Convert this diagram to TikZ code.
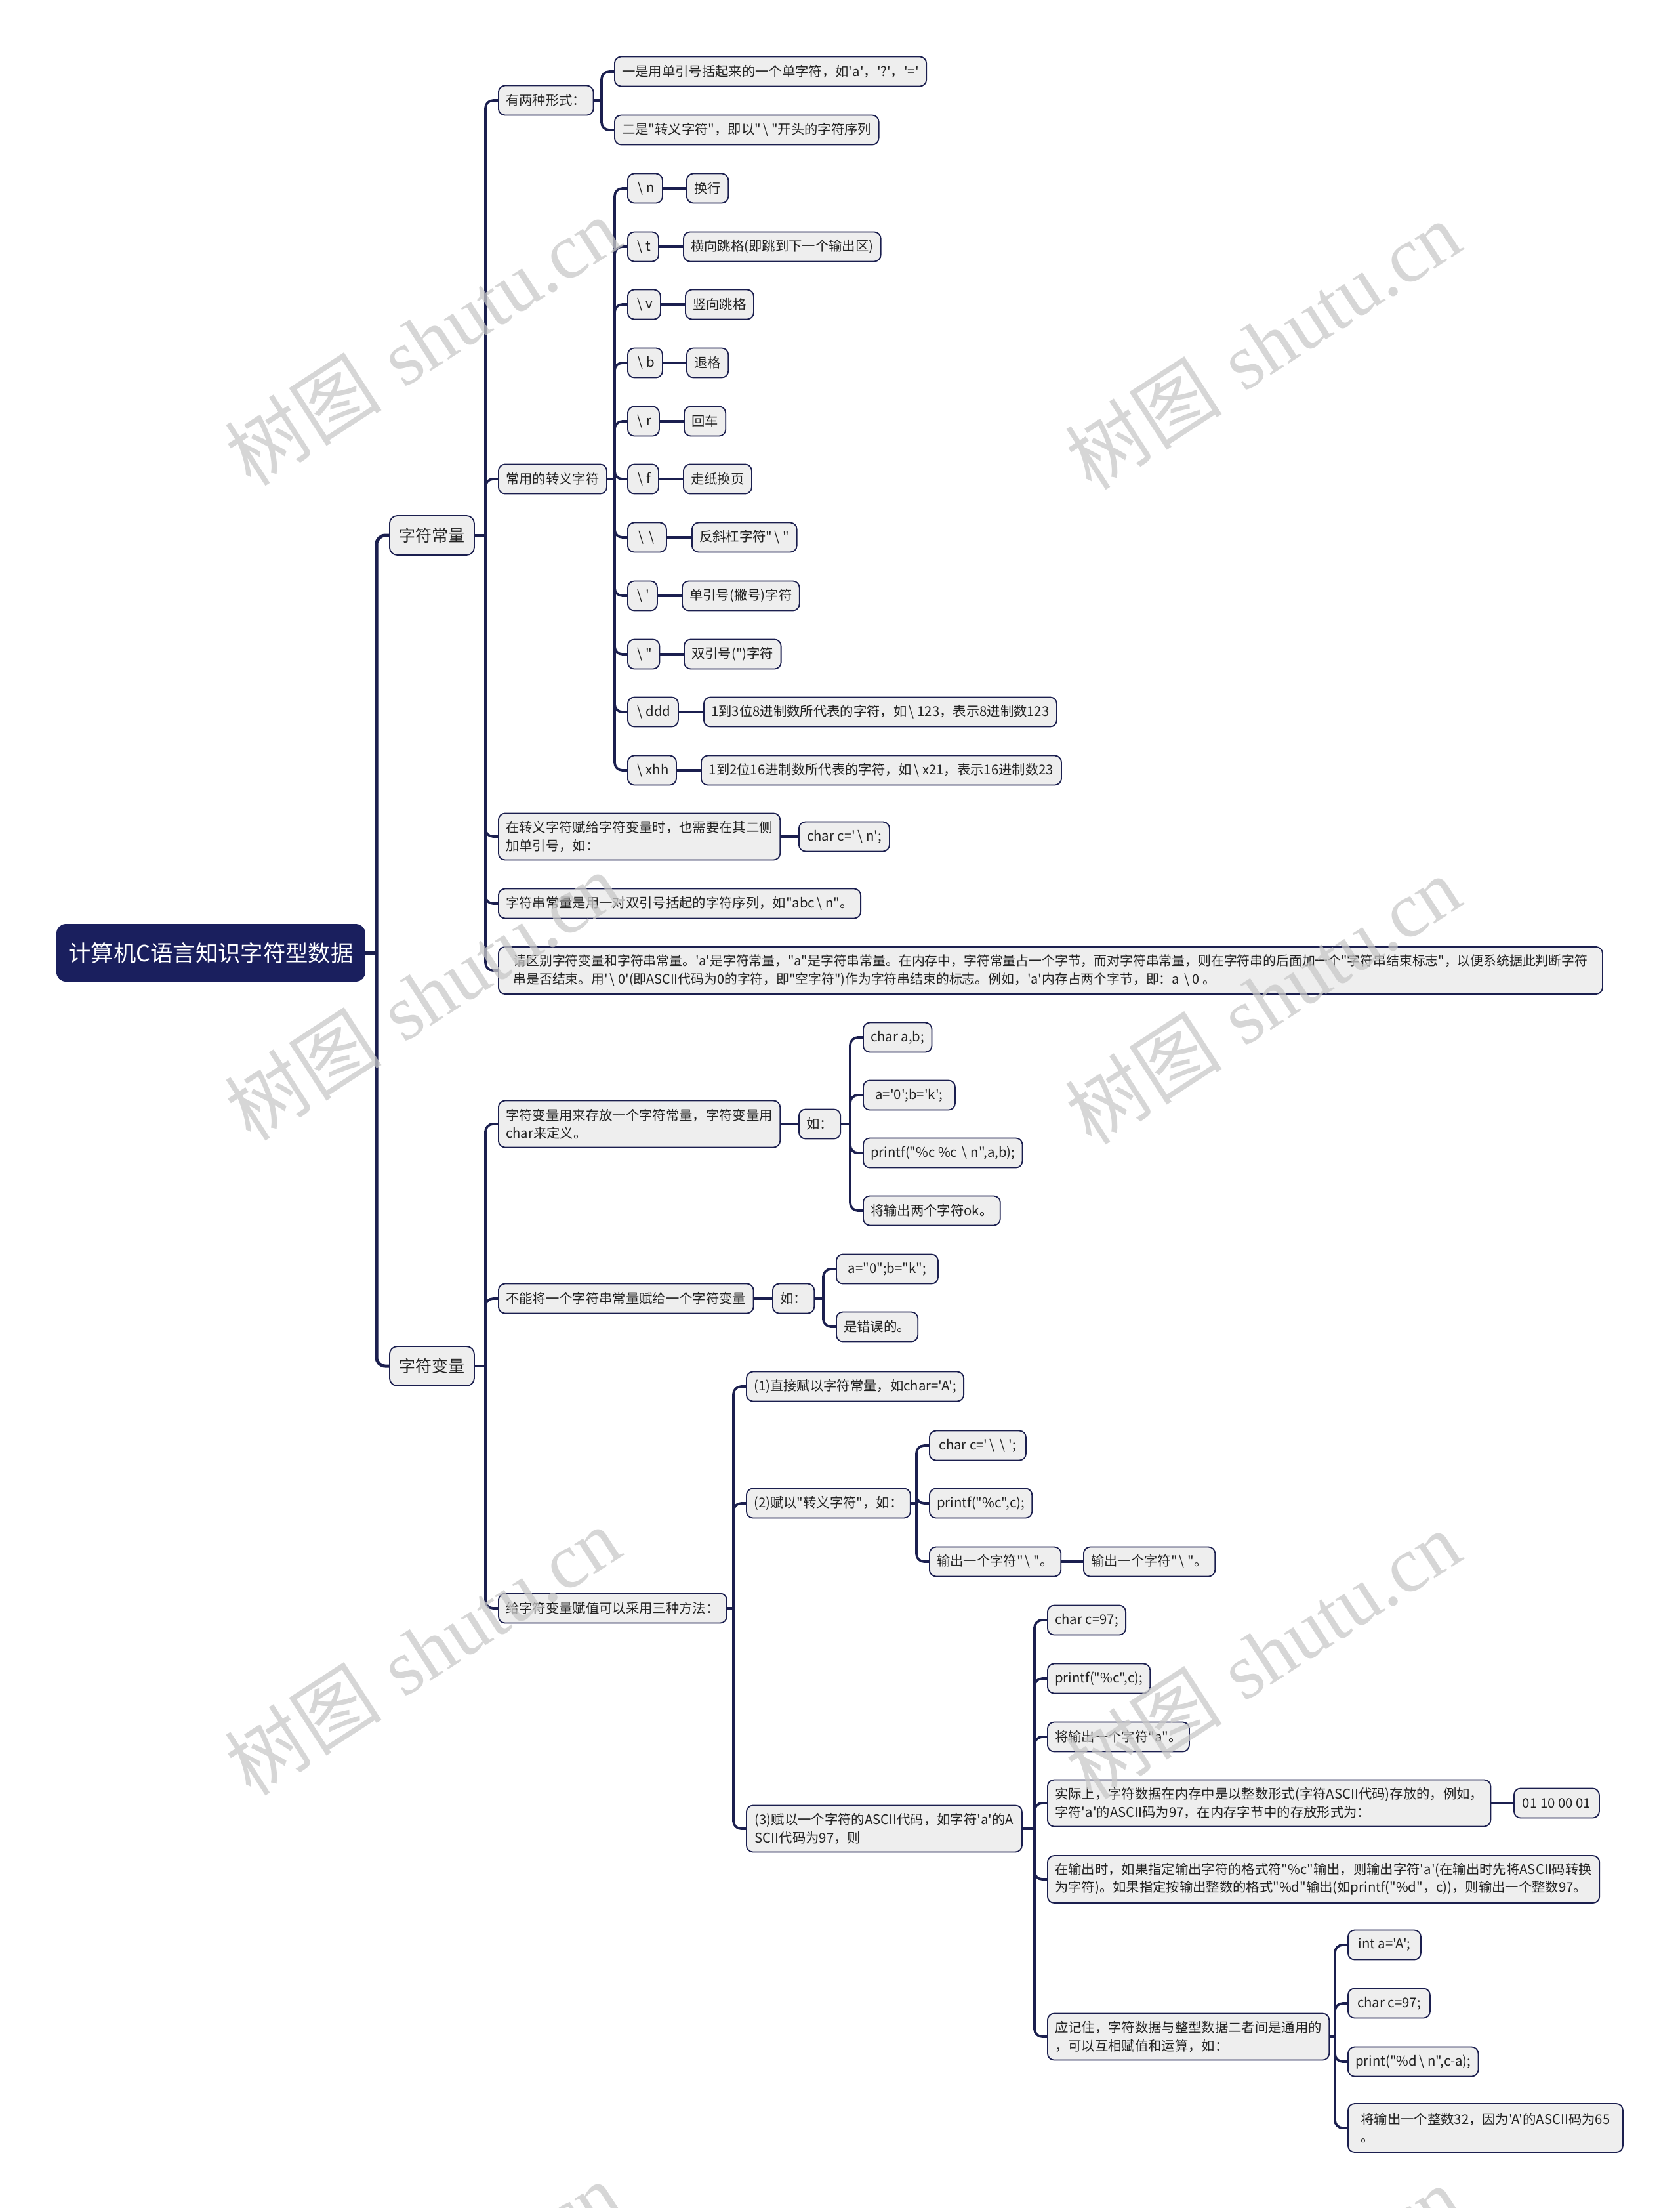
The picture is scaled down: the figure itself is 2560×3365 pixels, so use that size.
\documentclass[tikz,border=0pt]{standalone}
\usepackage{fontspec}
\newfontfamily\cjkmain{Noto Sans CJK SC}
\newfontfamily\wmserif{Liberation Serif}
\newfontfamily\wmcjk{Noto Sans CJK SC}
\definecolor{lc}{HTML}{1B1F4F}
\definecolor{bg}{HTML}{EEEEEE}
\definecolor{rootc}{HTML}{1A1F5E}
\definecolor{tc}{HTML}{222222}
\definecolor{wmc}{HTML}{C8C8C8}
\newcommand\bs{\hspace{0.15em}\textbackslash\hspace{0.25em}}
\newcommand\bx[6][]{\node[box,#1,anchor=west,minimum width=#4*0.3pt,minimum height=#5*0.3pt] (#2) at (#3) {#6};}
\newcommand\fan[4][conn]{\path (#2.east -| #3.west) ++(-19,0) coordinate (sp#2); \draw[#1] (#2.east) -- (sp#2); \foreach \c in {#4} {\draw[#1] (sp#2) |- (\c.west);}}
\newcommand\lnk[2]{\draw[conn] (#1.east) -- (#2.west);}
\begin{document}
\begin{tikzpicture}[x=0.3pt,y=-0.3pt,
  box/.style={draw=lc, line width=0.55pt, fill=bg, rounded corners=3pt, inner xsep=3.4pt, inner ysep=0pt, font=\cjkmain\fontsize{6.1}{8.2}\selectfont, text=tc, align=left},
  rootbox/.style={fill=rootc, draw=rootc, text=white, font=\cjkmain\fontsize{10.3}{12}\selectfont, rounded corners=4pt},
  lvone/.style={font=\cjkmain\fontsize{7.5}{9}\selectfont, rounded corners=3.5pt},
  conn/.style={draw=lc, line width=1.1pt, rounded corners=3.5pt},
  mainconn/.style={draw=lc, line width=1.5pt, rounded corners=4pt},
  wm/.style={text=wmc, opacity=0.75, font=\fontsize{36}{40}\selectfont, inner sep=0pt}
]
\useasboundingbox (0,0) rectangle (2560,3365);
% root and first level
\bx[rootbox]{root}{86,1452}{469}{86}{计算机C语言知识字符型数据}
\bx[lvone]{cl}{593,816}{129}{60}{字符常量}
\bx[lvone]{bl}{593,2082}{129}{60}{字符变量}
% children of 字符常量
\bx{a1}{759,153}{139}{45}{有两种形式：}
\bx{a1a}{936,109}{467}{45}{一是用单引号括起来的一个单字符，如'a'，'?'，'='}
\bx{a1b}{936,198}{394}{45}{二是"转义字符"，即以"\bs"开头的字符序列}
\bx{a2}{759,730}{160}{45}{常用的转义字符}
\bx{e01}{956,287}{53}{45}{\bs n}
\bx{d01}{1046,287}{60}{45}{换行}
\bx{e02}{956,376}{47}{45}{\bs t}
\bx{d02}{1041,376}{294}{45}{横向跳格(即跳到下一个输出区)}
\bx{e03}{956,464}{50}{45}{\bs v}
\bx{d03}{1044,464}{100}{45}{竖向跳格}
\bx{e04}{956,553}{53}{45}{\bs b}
\bx{d04}{1046,553}{60}{45}{退格}
\bx{e05}{956,642}{48}{45}{\bs r}
\bx{d05}{1042,642}{59}{45}{回车}
\bx{e06}{956,730}{47}{45}{\bs f}
\bx{d06}{1041,730}{99}{45}{走纸换页}
\bx{e07}{956,819}{59}{45}{\bs\bs}
\bx{d07}{1054,819}{156}{45}{反斜杠字符"\bs"}
\bx{e08}{956,908}{45}{45}{\bs '}
\bx{d08}{1039,908}{173}{45}{单引号(撇号)字符}
\bx{e09}{956,997}{48}{45}{\bs "}
\bx{d09}{1042,997}{142}{45}{双引号(")字符}
\bx{e10}{956,1085}{77}{45}{\bs ddd}
\bx{d10}{1072,1085}{538}{45}{1到3位8进制数所代表的字符，如\bs 123，表示8进制数123}
\bx{e11}{956,1174}{74}{45}{\bs xhh}
\bx{d11}{1068,1174}{549}{45}{1到2位16进制数所代表的字符，如\bs x21，表示16进制数23}
\bx{a3}{759,1275}{420}{71}{在转义字符赋给字符变量时，也需要在其二侧\\加单引号，如：}
\bx{a3r}{1217,1275}{138}{45}{char c='\bs n';}
\bx{a4}{759,1377}{543}{45}{字符串常量是用一对双引号括起的字符序列，如"abc\bs n"。}
\bx[font=\cjkmain\fontsize{5.95}{8.2}\selectfont]{a5}{759,1479}{1683}{72}{请区别字符变量和字符串常量。'a'是字符常量，"a"是字符串常量。在内存中，字符常量占一个字节，而对字符串常量，则在字符串的后面加一个"字符串结束标志"，以便系统据此判断字符\\串是否结束。用'\bs 0'(即ASCII代码为0的字符，即"空字符")作为字符串结束的标志。例如，'a'内存占两个字节，即：a \bs 0 。}
% children of 字符变量
\bx{b1}{759,1713}{420}{71}{字符变量用来存放一个字符常量，字符变量用\\char来定义。}
\bx{b1r}{1217,1713}{60}{45}{如：}
\bx{c1}{1315,1581}{100}{45}{char a,b;}
\bx{c2}{1315,1669}{140}{45}{a='0';b='k';}
\bx{c3}{1315,1757}{240}{45}{printf("\%c \%c \bs n",a,b);}
\bx{c4}{1315,1845}{203}{45}{将输出两个字符ok。}
\bx{b2}{759,1979}{380}{45}{不能将一个字符串常量赋给一个字符变量}
\bx{b2r}{1177,1979}{60}{45}{如：}
\bx{dd1}{1274,1934}{155}{45}{a="0";b="k";}
\bx{dd2}{1274,2022}{119}{45}{是错误的。}
\bx{b3}{759,2451}{340}{45}{给字符变量赋值可以采用三种方法：}
\bx{m1}{1137,2113}{329}{45}{(1)直接赋以字符常量，如char='A';}
\bx{m2}{1137,2291}{241}{45}{(2)赋以"转义字符"，如：}
\bx{f1}{1416,2203}{147}{45}{char c='\bs\bs';}
\bx{f2}{1416,2291}{151}{45}{printf("\%c",c);}
\bx{f3}{1416,2380}{197}{45}{输出一个字符"\bs"。}
\bx{f4}{1651,2380}{195}{45}{输出一个字符"\bs"。}
\bx{m3}{1137,2787}{420}{71}{(3)赋以一个字符的ASCII代码，如字符'a'的A\\SCII代码为97，则}
\bx{g1}{1596,2469}{118}{45}{char c=97;}
\bx{g2}{1596,2558}{149}{45}{printf("\%c",c);}
\bx{g3}{1596,2647}{205}{45}{将输出一个字符"a"。}
\bx{g4}{1596,2748}{671}{71}{实际上，字符数据在内存中是以整数形式(字符ASCII代码)存放的，例如，\\字符'a'的ASCII码为97，在内存字节中的存放形式为：}
\bx{g4r}{2307,2748}{130}{45}{01 10 00 01}
\bx{g5}{1596,2864}{841}{72}{在输出时，如果指定输出字符的格式符"\%c"输出，则输出字符'a'(在输出时先将ASCII码转换\\为字符)。如果指定按输出整数的格式"\%d"输出(如printf("\%d"，c))，则输出一个整数97。}
\bx{g6}{1596,3104}{419}{71}{应记住，字符数据与整型数据二者间是通用的\\，可以互相赋值和运算，如：}
\bx{h1}{2054,2964}{111}{45}{int a='A';}
\bx{h2}{2054,3053}{125}{45}{char c=97;}
\bx{h3}{2054,3142}{196}{45}{print("\%d\bs n",c-a);}
\bx{h4}{2054,3243}{419}{74}{将输出一个整数32，因为'A'的ASCII码为65\\。}
% connectors
\fan[mainconn]{root}{cl}{cl,bl}
\fan{cl}{a1}{a1,a2,a3,a4,a5}
\fan{bl}{b1}{b1,b2,b3}
\fan{a1}{a1a}{a1a,a1b}
\fan{a2}{e01}{e01,e02,e03,e04,e05,e06,e07,e08,e09,e10,e11}
\lnk{e01}{d01}\lnk{e02}{d02}\lnk{e03}{d03}\lnk{e04}{d04}
\lnk{e05}{d05}\lnk{e06}{d06}\lnk{e07}{d07}\lnk{e08}{d08}
\lnk{e09}{d09}\lnk{e10}{d10}\lnk{e11}{d11}
\lnk{a3}{a3r}
\lnk{b1}{b1r}
\fan{b1r}{c1}{c1,c2,c3,c4}
\lnk{b2}{b2r}
\fan{b2r}{dd1}{dd1,dd2}
\fan{b3}{m1}{m1,m2,m3}
\fan{m2}{f1}{f1,f2,f3}
\lnk{f3}{f4}
\fan{m3}{g1}{g1,g2,g3,g4,g5,g6}
\lnk{g4}{g4r}
\fan{g6}{h1}{h1,h2,h3,h4}
% watermarks
\begin{scope}
\clip (0,0) rectangle (2560,3365);
\node[wm,rotate=33] (wm1) at (644,520) {{\wmcjk 树图} {\wmserif shutu.cn}};
\node[wm,rotate=33] (wm2) at (1925,526) {{\wmcjk 树图} {\wmserif shutu.cn}};
\node[wm,rotate=33] (wm3) at (644,1518) {{\wmcjk 树图} {\wmserif shutu.cn}};
\node[wm,rotate=33] (wm4) at (1925,1524) {{\wmcjk 树图} {\wmserif shutu.cn}};
\node[wm,rotate=33] (wm5) at (644,2516) {{\wmcjk 树图} {\wmserif shutu.cn}};
\node[wm,rotate=33] (wm6) at (1925,2522) {{\wmcjk 树图} {\wmserif shutu.cn}};
\node[wm,rotate=33] (wm7) at (644,3514) {{\wmcjk 树图} {\wmserif shutu.cn}};
\node[wm,rotate=33] (wm8) at (1925,3520) {{\wmcjk 树图} {\wmserif shutu.cn}};
\end{scope}
\end{tikzpicture}
\end{document}
